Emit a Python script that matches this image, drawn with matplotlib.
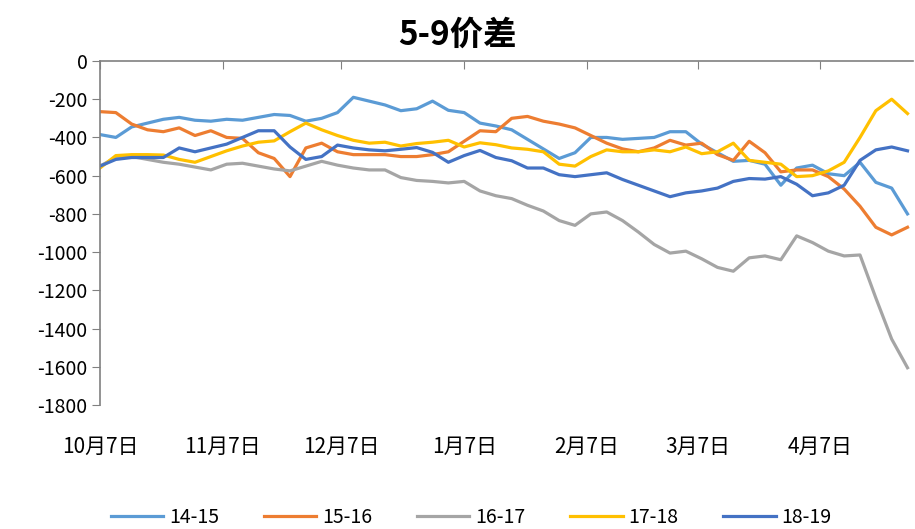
# 5-9 spread by season, Oct 7 -> end of April

import pandas as pd
import matplotlib.pyplot as plt

plt.rcParams['font.family'] = ['Noto Sans CJK SC', 'DejaVu Sans']

# Dates (every 4 days from Oct 7)
dates = pd.date_range('2018-10-07', periods=52, freq='4D')

# Spread values
s_14_15 = [-385, -400, -345, -325, -305, -295, -310, -315, -305, -310,
           -295, -280, -285, -315, -300, -270, -190, -210, -230, -260,
           -250, -210, -258, -270, -325, -340, -360, -410, -460, -510,
           -480, -400, -400, -410, -405, -400, -370, -370, -435, -480,
           -525, -520, -540, -650, -560, -545, -590, -600, -530, -635,
           -665, -800]
s_15_16 = [-265, -270, -330, -360, -370, -350, -390, -365, -400, -405,
           -480, -510, -605, -455, -430, -475, -490, -490, -490, -500,
           -500, -490, -475, -420, -365, -370, -300, -290, -315, -330,
           -350, -390, -430, -460, -475, -455, -415, -440, -430, -490,
           -520, -420, -480, -580, -570, -570, -605, -670, -760, -870,
           -910, -870]
s_16_17 = [-550, -505, -500, -515, -530, -540, -555, -570, -540, -535,
           -550, -565, -575, -550, -525, -545, -560, -570, -570, -610,
           -625, -630, -638, -630, -680, -705, -720, -755, -785, -835,
           -860, -800, -790, -835, -895, -960, -1005, -995, -1035, -1080,
           -1100, -1030, -1020, -1040, -915, -950, -995, -1020, -1015, -1240,
           -1455, -1605]
s_17_18 = [-560, -495, -490, -490, -492, -515, -530, -500, -470, -445,
           -425, -418, -370, -325, -360, -390, -415, -430, -425, -445,
           -432, -425, -415, -450, -428, -438, -455, -462, -475, -540,
           -550, -500, -465, -475, -475, -465, -475, -450, -485, -475,
           -430, -520, -530, -540, -605, -600, -575, -530, -400, -260,
           -200, -275]
s_18_19 = [-550, -515, -505, -505, -505, -455, -475, -455, -435, -400,
           -365, -365, -450, -515, -500, -440, -455, -465, -470, -462,
           -453, -478, -530, -495, -468, -505, -522, -560, -560, -595,
           -605, -595, -585, -620, -650, -680, -710, -690, -680, -665,
           -630, -615, -618, -605, -645, -705, -690, -650, -520, -465,
           -450, -470]

series = {
    '14-15': s_14_15,
    '15-16': s_15_16,
    '16-17': s_16_17,
    '17-18': s_17_18,
    '18-19': s_18_19,
}
colors = ['#5B9BD5', '#ED7D31', '#A5A5A5', '#FFC000', '#4472C4']

tick_dates = pd.to_datetime(['2018-10-07', '2018-11-07', '2018-12-07', '2019-01-07',
                             '2019-02-07', '2019-03-07', '2019-04-07'])
tick_labels = ['10月7日', '11月7日', '12月7日', '1月7日', '2月7日', '3月7日', '4月7日']
y_ticks = list(range(0, -2000, -200))

fig = plt.figure(figsize=(9.15, 5.29), dpi=100)
ax = fig.add_axes([0.1093, 0.2344, 0.889, 0.6503])

for (name, vals), c in zip(series.items(), colors):
    ax.plot(dates, vals, color=c, linewidth=2.3, label=name)

ax.set_xlim(pd.Timestamp('2018-10-07'), pd.Timestamp('2019-04-30 12:00'))
ax.set_ylim(-1800, 0)
ax.set_yticks(y_ticks)
ax.set_yticklabels([str(v) for v in y_ticks], fontsize=14)

# category axis sits on the zero line (top), labels stay at the bottom
ax.set_xticks(tick_dates)
ax.set_xticklabels(tick_labels, fontsize=15)
ax.tick_params(axis='x', top=True, bottom=False, direction='in', length=6,
               labeltop=False, labelbottom=True, pad=22, color='#808080')
ax.tick_params(axis='y', direction='out', length=6, color='#808080', pad=3)

for side in ['right', 'bottom']:
    ax.spines[side].set_visible(False)
for side in ['left', 'top']:
    ax.spines[side].set_color('#808080')
    ax.spines[side].set_linewidth(1.2)

fig.suptitle('5-9价差', x=0.5, y=0.965, fontsize=24, fontweight='bold')

fig.legend(loc='center', bbox_to_anchor=(0.515, 0.022), ncol=5, frameon=False,
           fontsize=14, handlelength=2.7, handletextpad=0.3, columnspacing=2.3)

fig.savefig('out.png', dpi=100)
